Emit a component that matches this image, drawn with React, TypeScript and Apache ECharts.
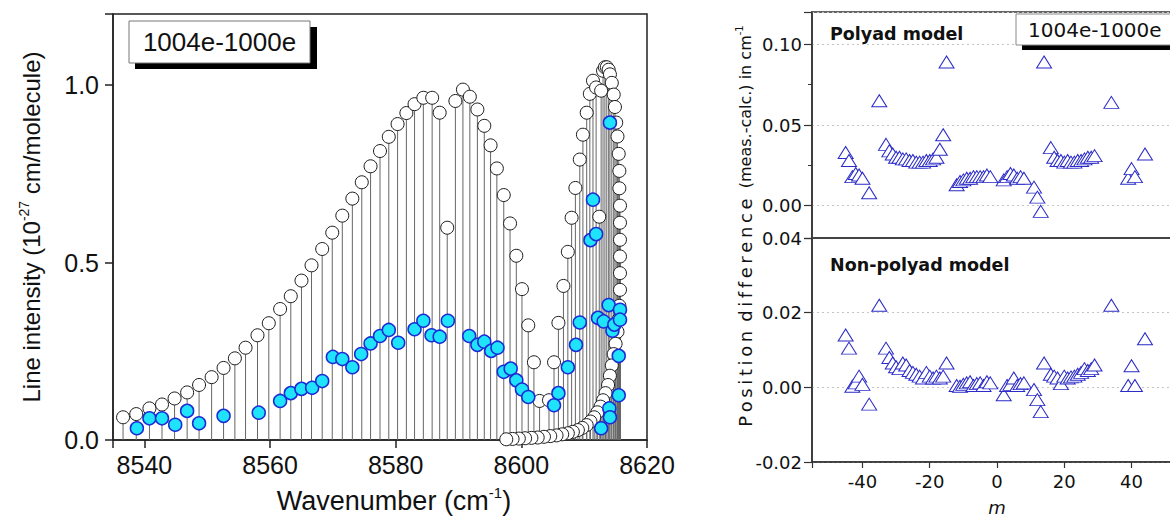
import { useEffect, useRef } from 'react';
import * as echarts from 'echarts';

// calculated line list (open circles), P branch then R branch up to and back from the head
const pBranch: [number, number][] = [
  [8536.6, 0.064], [8538.7, 0.073], [8540.8, 0.089], [8542.8, 0.1], [8544.8, 0.117],
  [8546.8, 0.134], [8548.7, 0.155], [8550.7, 0.177], [8552.6, 0.203], [8554.4, 0.23],
  [8556.1, 0.26], [8558.0, 0.295], [8559.8, 0.329], [8561.6, 0.369], [8563.3, 0.405],
  [8565.0, 0.449], [8566.6, 0.492], [8568.3, 0.538], [8569.9, 0.584], [8571.5, 0.632],
  [8573.1, 0.68], [8574.6, 0.726], [8576.0, 0.771], [8577.5, 0.814], [8578.9, 0.854],
  [8580.3, 0.89], [8581.7, 0.921], [8583.0, 0.946], [8584.4, 0.964], [8585.8, 0.964],
  [8587.0, 0.922], [8588.2, 0.598], [8589.5, 0.955], [8590.7, 0.987], [8591.8, 0.967],
  [8593.0, 0.931], [8594.1, 0.885], [8595.1, 0.83], [8596.1, 0.765], [8597.2, 0.69],
  [8598.2, 0.61], [8599.2, 0.519], [8600.1, 0.425], [8601.1, 0.323], [8602.0, 0.219],
  [8602.9, 0.11],
];

const rBranch: [number, number][] = [
  [8604.4, 0.112], [8605.2, 0.219], [8605.9, 0.33], [8606.7, 0.434], [8607.4, 0.53],
  [8608.0, 0.626], [8608.6, 0.71], [8609.3, 0.79], [8609.8, 0.86], [8610.4, 0.922],
  [8610.9, 0.975], [8611.4, 1.012], [8611.9, 0.993], [8612.4, 0.629], [8612.7, 0.984],
  [8613.0, 1.04], [8613.3, 1.05], [8613.6, 1.05], [8613.9, 1.043], [8614.1, 1.03],
  [8614.4, 1.006], [8614.7, 0.973], [8614.9, 0.938], [8615.1, 0.894], [8615.3, 0.855],
  [8615.5, 0.806], [8615.6, 0.758], [8615.6, 0.709], [8615.7, 0.66], [8615.7, 0.612],
  [8615.7, 0.564], [8615.7, 0.517], [8615.7, 0.47], [8615.7, 0.423], [8615.6, 0.378],
  [8615.5, 0.34], [8615.3, 0.305], [8615.0, 0.271], [8614.7, 0.242], [8614.4, 0.21],
  [8614.1, 0.181], [8613.8, 0.155], [8613.4, 0.132], [8613.0, 0.112], [8612.6, 0.094],
  [8612.1, 0.078], [8611.6, 0.064], [8611.0, 0.052], [8610.4, 0.042], [8609.7, 0.034],
  [8609.0, 0.028], [8608.2, 0.023], [8607.4, 0.019], [8606.5, 0.016], [8605.6, 0.013],
  [8604.6, 0.011], [8603.6, 0.009], [8602.6, 0.007], [8601.6, 0.006], [8600.6, 0.005],
  [8599.6, 0.004], [8598.6, 0.003], [8597.6, 0.002],
];

// measured intensities (blue circles)
const observed: [number, number][] = [
  [8538.8, 0.033], [8540.8, 0.061], [8542.8, 0.061], [8544.9, 0.043], [8546.8, 0.082],
  [8548.7, 0.047], [8552.6, 0.068], [8558.2, 0.077], [8561.6, 0.11], [8563.3, 0.132],
  [8565.0, 0.144], [8566.7, 0.147], [8568.3, 0.166], [8570.0, 0.234], [8571.5, 0.228],
  [8573.1, 0.205], [8574.5, 0.242], [8576.0, 0.272], [8577.5, 0.293], [8578.9, 0.31],
  [8580.4, 0.274], [8583.0, 0.312], [8584.4, 0.336], [8585.7, 0.295], [8587.0, 0.291],
  [8588.3, 0.336], [8591.7, 0.293], [8593.0, 0.268], [8594.1, 0.277], [8595.2, 0.251],
  [8596.2, 0.26], [8597.2, 0.192], [8598.3, 0.201], [8599.2, 0.168], [8600.1, 0.142],
  [8601.1, 0.121], [8605.2, 0.098], [8605.9, 0.132], [8607.4, 0.205], [8608.7, 0.268],
  [8609.3, 0.331], [8611.0, 0.563], [8611.4, 0.677], [8611.9, 0.58], [8612.2, 0.344],
  [8613.1, 0.334], [8613.9, 0.38], [8614.1, 0.894], [8614.5, 0.308], [8614.8, 0.325],
  [8615.7, 0.367], [8615.7, 0.339], [8615.5, 0.237], [8615.5, 0.126], [8614.0, 0.089],
  [8614.1, 0.064], [8612.7, 0.033],
];

// residuals vs m
const mValues = [
  -45, -44, -43, -42, -41, -40, -38, -35,
  -33, -32, -31, -30, -29, -28, -27, -26, -25, -24, -23, -22, -21, -20, -19, -18, -17, -16, -15,
  -12, -11, -10, -9, -8, -7, -6, -5, -4, -3, -2,
  2, 3, 4, 5, 6, 7, 8,
  11, 12, 13, 14,
  16, 17, 18, 19, 20, 21, 22, 23, 24, 25, 26, 27, 28, 29,
  34, 39, 40, 41, 44,
];

const polyadDiff = [
  0.033, 0.028, 0.018, 0.02, 0.019, 0.017, 0.008, 0.065,
  0.038, 0.034, 0.032, 0.03, 0.03, 0.029, 0.029, 0.028, 0.028, 0.027, 0.027, 0.027, 0.028, 0.028, 0.029, 0.03, 0.035, 0.044, 0.089,
  0.013, 0.015, 0.016, 0.017, 0.017, 0.018, 0.018, 0.018, 0.018, 0.019, 0.018,
  0.016, 0.018, 0.02, 0.019, 0.017, 0.018, 0.017,
  0.0115, 0.0053, -0.0035, 0.089,
  0.036, 0.03, 0.028, 0.028, 0.027, 0.028, 0.027, 0.027, 0.028, 0.028, 0.029, 0.03, 0.03, 0.031,
  0.064, 0.017, 0.023, 0.018, 0.032,
];

const nonPolyadDiff = [
  0.014, 0.0105, 0.0003, 0.0012, 0.003, 0.0008, -0.0045, 0.022,
  0.0105, 0.008, 0.0065, 0.0055, 0.005, 0.0065, 0.006, 0.0045, 0.004, 0.0035, 0.003, 0.0025, 0.004, 0.003, 0.0025, 0.003, 0.0025, 0.003, 0.0065,
  0.0005, 0.0003, 0.0008, 0.0012, 0.0015, 0.0005, 0.001, 0.0012, 0.0005, 0.0015, 0.0012,
  -0.002, 0.0005, 0.0008, 0.0025, 0.0005, 0.001, 0.0012,
  -0.0006, -0.0033, -0.0065, 0.0065,
  0.0035, 0.003, 0.0025, 0.001, 0.003, 0.0025, 0.0028, 0.003, 0.0035, 0.004, 0.005, 0.0045, 0.005, 0.006,
  0.022, 0.0005, 0.0058, 0.0005, 0.013,
];

const bandLabel = '1004e-1000e';

const ARIAL = 'Liberation Sans';
const DEJAVU = 'DejaVu Sans';
const INK = '#111';
const TRI = '#2b2bc8';

const isMultiple = (v: number, step: number) => Math.abs(v / step - Math.round(v / step)) < 1e-6;
const fmt2 = (v: number) => (Math.round(v * 100) / 100 + 0).toFixed(2);

const supRich = (size: number, supSize: number, family: string) => ({
  a: { fontSize: size, fontFamily: family, color: INK, lineHeight: size + 4 },
  s: { fontSize: supSize, fontFamily: family, color: INK, lineHeight: supSize, verticalAlign: 'top' },
});

export default function App() {
  const chartRef = useRef<HTMLDivElement>(null);

  useEffect(() => {
    if (!chartRef.current) return;
    const chart = echarts.init(chartRef.current, undefined, { renderer: 'svg' });
    const calc = [...pBranch, ...rBranch];
    const spaced = 'Position difference'
      .split(' ')
      .map((w) => w.split('').join('\u2009'))
      .join('\u2002');

    const rightY = (gridIndex: number) => ({
      gridIndex,
      type: 'value',
      axisLine: { show: true, onZero: false, lineStyle: { color: '#333', width: 1.5 } },
      axisTick: { show: true, length: 8, lineStyle: { color: '#333', width: 1.2 } },
      splitLine: { show: true, lineStyle: { color: '#c4c4c4', type: [2, 3], width: 1 } },
    });
    const rightLabel = { fontSize: 18, fontFamily: DEJAVU, color: INK, margin: 10 };

    chart.setOption({
      animation: false,
      textStyle: { fontFamily: ARIAL },
      grid: [
        { left: 113, top: 14, width: 534, height: 433, show: true, borderColor: '#222', borderWidth: 1.5 },
        { left: 812, top: 12, width: 370, height: 226, show: true, borderColor: '#333', borderWidth: 1.5 },
        { left: 812, top: 238, width: 370, height: 224, show: true, borderColor: '#333', borderWidth: 1.5 },
      ],
      xAxis: [
        {
          gridIndex: 0,
          type: 'value',
          min: 8535,
          max: 8620,
          splitNumber: 4,
          axisLine: { show: true, onZero: false, lineStyle: { color: '#222', width: 1.5 } },
          axisTick: { show: true, length: 8, lineStyle: { color: '#222', width: 1.5 } },
          axisLabel: {
            fontSize: 25,
            color: INK,
            margin: 12,
            formatter: (v: number) => (isMultiple(v, 20) ? String(v) : ''),
          },
          splitLine: { show: false },
          name: '{a|Wavenumber (cm}{s|-1}{a|)}',
          nameLocation: 'middle',
          nameGap: 45,
          nameTextStyle: { padding: [0, 0, 0, 28], rich: supRich(27, 15, ARIAL) },
        },
        {
          gridIndex: 1,
          type: 'value',
          min: -55,
          max: 55,
          axisLine: { show: true, onZero: false, lineStyle: { color: '#444', width: 2 } },
          axisTick: { show: false },
          axisLabel: { show: false },
          splitLine: { show: false },
        },
        {
          gridIndex: 2,
          type: 'value',
          min: -55,
          max: 55,
          axisLine: { show: true, onZero: false, lineStyle: { color: '#333', width: 1.5 } },
          axisTick: { show: true, length: 6, lineStyle: { color: '#333', width: 1.2 } },
          axisLabel: {
            ...rightLabel,
            formatter: (v: number) => (isMultiple(v, 20) && Math.abs(v) < 50 ? String(v) : ''),
          },
          splitLine: { show: false },
          name: 'm',
          nameLocation: 'middle',
          nameGap: 36,
          nameTextStyle: { fontSize: 18, fontFamily: DEJAVU, fontStyle: 'italic', color: INK },
        },
      ],
      yAxis: [
        {
          gridIndex: 0,
          type: 'value',
          min: 0,
          max: 1.2,
          interval: 0.5,
          axisLine: { show: true, onZero: false, lineStyle: { color: '#222', width: 1.5 } },
          axisTick: { show: true, length: 8, lineStyle: { color: '#222', width: 1.5 } },
          axisLabel: {
            fontSize: 25,
            color: INK,
            margin: 14,
            formatter: (v: number) => (isMultiple(v, 0.5) ? v.toFixed(1) : ''),
          },
          splitLine: { show: false },
          name: '{a|Line intensity (10}{s|-27}{a| cm/molecule)}',
          nameLocation: 'middle',
          nameRotate: 90,
          nameGap: 68,
          nameTextStyle: { rich: supRich(24, 14, ARIAL) },
        },
        {
          ...rightY(1),
          min: -0.02,
          max: 0.12,
          splitNumber: 3,
          minorTick: { show: true, splitNumber: 2, length: 4, lineStyle: { color: '#333' } },
          axisLabel: {
            ...rightLabel,
            formatter: (v: number) => (v > -1e-9 && v < 0.1 + 1e-9 && isMultiple(v, 0.05) ? fmt2(v) : ''),
          },
        },
        {
          ...rightY(2),
          min: -0.02,
          max: 0.04,
          interval: 0.02,
          axisLabel: { ...rightLabel, formatter: fmt2 },
        },
      ],
      series: [
        {
          type: 'custom',
          xAxisIndex: 0,
          yAxisIndex: 0,
          data: calc,
          z: 1,
          renderItem: (_params: any, api: any) => {
            const top = api.coord([api.value(0), api.value(1)]);
            const base = api.coord([api.value(0), 0]);
            return {
              type: 'line',
              shape: { x1: top[0], y1: top[1], x2: base[0], y2: base[1] },
              style: { stroke: '#666', lineWidth: 1 },
            };
          },
        },
        {
          type: 'scatter',
          xAxisIndex: 0,
          yAxisIndex: 0,
          data: calc,
          symbol: 'circle',
          symbolSize: 13,
          clip: false,
          z: 2,
          itemStyle: { color: '#fff', borderColor: '#1a1a1a', borderWidth: 1, opacity: 1 },
        },
        {
          type: 'scatter',
          xAxisIndex: 0,
          yAxisIndex: 0,
          data: observed,
          symbol: 'circle',
          symbolSize: 13,
          z: 3,
          itemStyle: { color: '#1ee3fb', borderColor: '#1d2bd4', borderWidth: 1.5, opacity: 1 },
        },
        {
          type: 'scatter',
          xAxisIndex: 1,
          yAxisIndex: 1,
          data: mValues.map((m, i) => [m, polyadDiff[i]]),
          symbol: 'triangle',
          symbolSize: [15, 12],
          itemStyle: { color: '#fff', borderColor: TRI, borderWidth: 1, opacity: 1 },
        },
        {
          type: 'scatter',
          xAxisIndex: 2,
          yAxisIndex: 2,
          data: mValues.map((m, i) => [m, nonPolyadDiff[i]]),
          symbol: 'triangle',
          symbolSize: [15, 12],
          itemStyle: { color: '#fff', borderColor: TRI, borderWidth: 1, opacity: 1 },
        },
      ],
      graphic: [
        { type: 'rect', z: 100, shape: { x: 135, y: 27, width: 182, height: 42 }, style: { fill: '#000' } },
        {
          type: 'rect',
          z: 101,
          shape: { x: 129, y: 21, width: 181, height: 42 },
          style: { fill: '#fff', stroke: '#777', lineWidth: 1 },
        },
        {
          type: 'text',
          z: 102,
          x: 219.5,
          y: 42,
          style: { text: bandLabel, fontSize: 26, fontFamily: ARIAL, fill: INK, align: 'center', verticalAlign: 'middle' },
        },
        { type: 'rect', z: 100, shape: { x: 1022, y: 20, width: 200, height: 30 }, style: { fill: '#000' } },
        {
          type: 'rect',
          z: 101,
          shape: { x: 1016, y: 14, width: 200, height: 31 },
          style: { fill: '#fff', stroke: '#888', lineWidth: 1 },
        },
        {
          type: 'text',
          z: 102,
          x: 1028,
          y: 30,
          style: { text: bandLabel, fontSize: 20, fontFamily: DEJAVU, fill: INK, align: 'left', verticalAlign: 'middle' },
        },
        {
          type: 'text',
          z: 102,
          x: 830,
          y: 34,
          style: {
            text: 'Polyad model',
            fontSize: 17.5,
            fontWeight: 'bold',
            fontFamily: DEJAVU,
            fill: INK,
            align: 'left',
            verticalAlign: 'middle',
          },
        },
        {
          type: 'text',
          z: 102,
          x: 830,
          y: 265,
          style: {
            text: 'Non-polyad model',
            fontSize: 17.5,
            fontWeight: 'bold',
            fontFamily: DEJAVU,
            fill: INK,
            align: 'left',
            verticalAlign: 'middle',
          },
        },
        {
          type: 'text',
          z: 102,
          x: 745,
          y: 226,
          rotation: Math.PI / 2,
          style: {
            text: `{b|${spaced}}{c|  (meas.-calc.) in cm}{u|-1}`,
            align: 'center',
            verticalAlign: 'middle',
            rich: {
              b: { fontSize: 18, fontFamily: DEJAVU, fill: INK, color: INK, lineHeight: 22 },
              c: { fontSize: 16, fontFamily: DEJAVU, fill: INK, color: INK, lineHeight: 22 },
              u: { fontSize: 10, fontFamily: DEJAVU, fill: INK, color: INK, lineHeight: 12, verticalAlign: 'top' },
            },
          },
        },
      ],
    });

    return () => {
      chart.dispose();
    };
  }, []);

  return (
    <div style={{ position: 'fixed', left: 0, top: 0, width: 1170, height: 519, overflow: 'hidden', background: '#fff' }}>
      <div ref={chartRef} style={{ width: 1190, height: 519 }} />
    </div>
  );
}
